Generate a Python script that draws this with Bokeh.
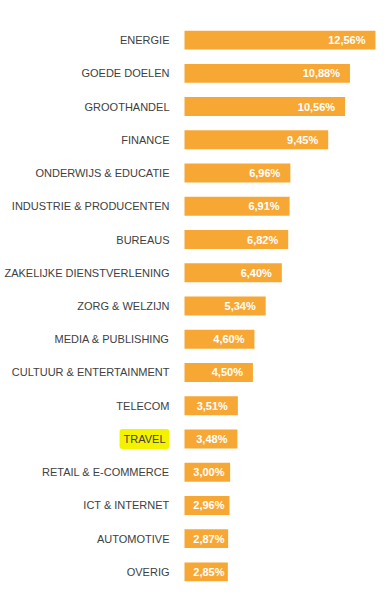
import numpy as np
from bokeh.plotting import figure
from bokeh.models import ColumnDataSource, Range1d, FactorRange
from bokeh.core.properties import value
from bokeh.embed import file_html
from bokeh.resources import INLINE

categories = ["ENERGIE", "GOEDE DOELEN", "GROOTHANDEL", "FINANCE",
              "ONDERWIJS & EDUCATIE", "INDUSTRIE & PRODUCENTEN", "BUREAUS",
              "ZAKELIJKE DIENSTVERLENING", "ZORG & WELZIJN", "MEDIA & PUBLISHING",
              "CULTUUR & ENTERTAINMENT", "TELECOM", "TRAVEL", "RETAIL & E-COMMERCE",
              "ICT & INTERNET", "AUTOMOTIVE", "OVERIG"]
values = [12.56, 10.88, 10.56, 9.45, 6.96, 6.91, 6.82, 6.40, 5.34, 4.60,
          4.50, 3.51, 3.48, 3.00, 2.96, 2.87, 2.85]
labels = [f"{v:.2f}%".replace(".", ",") for v in values]
highlight = "TRAVEL"

BAR = "#F7A834"
TXT = "#404040"
FONT = "Liberation Sans"

px_per_unit = 15.207
left_px = 184
W, H = 381, 590

vals = np.array(values)
lab_x = np.maximum(vals - 10 / px_per_unit, 40 / px_per_unit)

normal = [c for c in categories if c != highlight]
src = ColumnDataSource(dict(cat=categories, val=values, lab=labels, lab_x=lab_x,
                            zero=[0] * len(values)))
nsrc = ColumnDataSource(dict(cat=normal, zero=[0] * len(normal)))
hsrc = ColumnDataSource(dict(cat=[highlight], zero=[0]))

p = figure(width=W, height=H, output_backend="svg", toolbar_location=None,
           x_range=Range1d(-left_px / px_per_unit, (W - left_px) / px_per_unit),
           y_range=FactorRange(*categories[::-1]),
           min_border_left=0, min_border_right=0, min_border_top=23, min_border_bottom=2)
p.axis.visible = False
p.grid.visible = False
p.outline_line_color = None
p.background_fill_color = "white"
p.border_fill_color = "white"

p.hbar(y="cat", left="zero", right="val", height=0.57, source=src,
       fill_color=BAR, line_color=None)

p.text(x="zero", y="cat", text="cat", source=nsrc, x_offset=-15,
       text_align="right", text_baseline="middle", text_color=TXT,
       text_font=value(FONT), text_font_size="11px")

p.text(x="zero", y="cat", text="cat", source=hsrc, x_offset=-15,
       text_align="right", text_baseline="middle", text_color=TXT,
       text_font=value(FONT), text_font_size="11px",
       background_fill_color="#F3F300", padding=4, border_radius=3)

p.text(x="lab_x", y="cat", text="lab", source=src,
       text_align="right", text_baseline="middle", text_color="white",
       text_font=value(FONT), text_font_size="11px",
       text_font_style="bold")

open("out.html", "w").write(file_html(p, INLINE))
